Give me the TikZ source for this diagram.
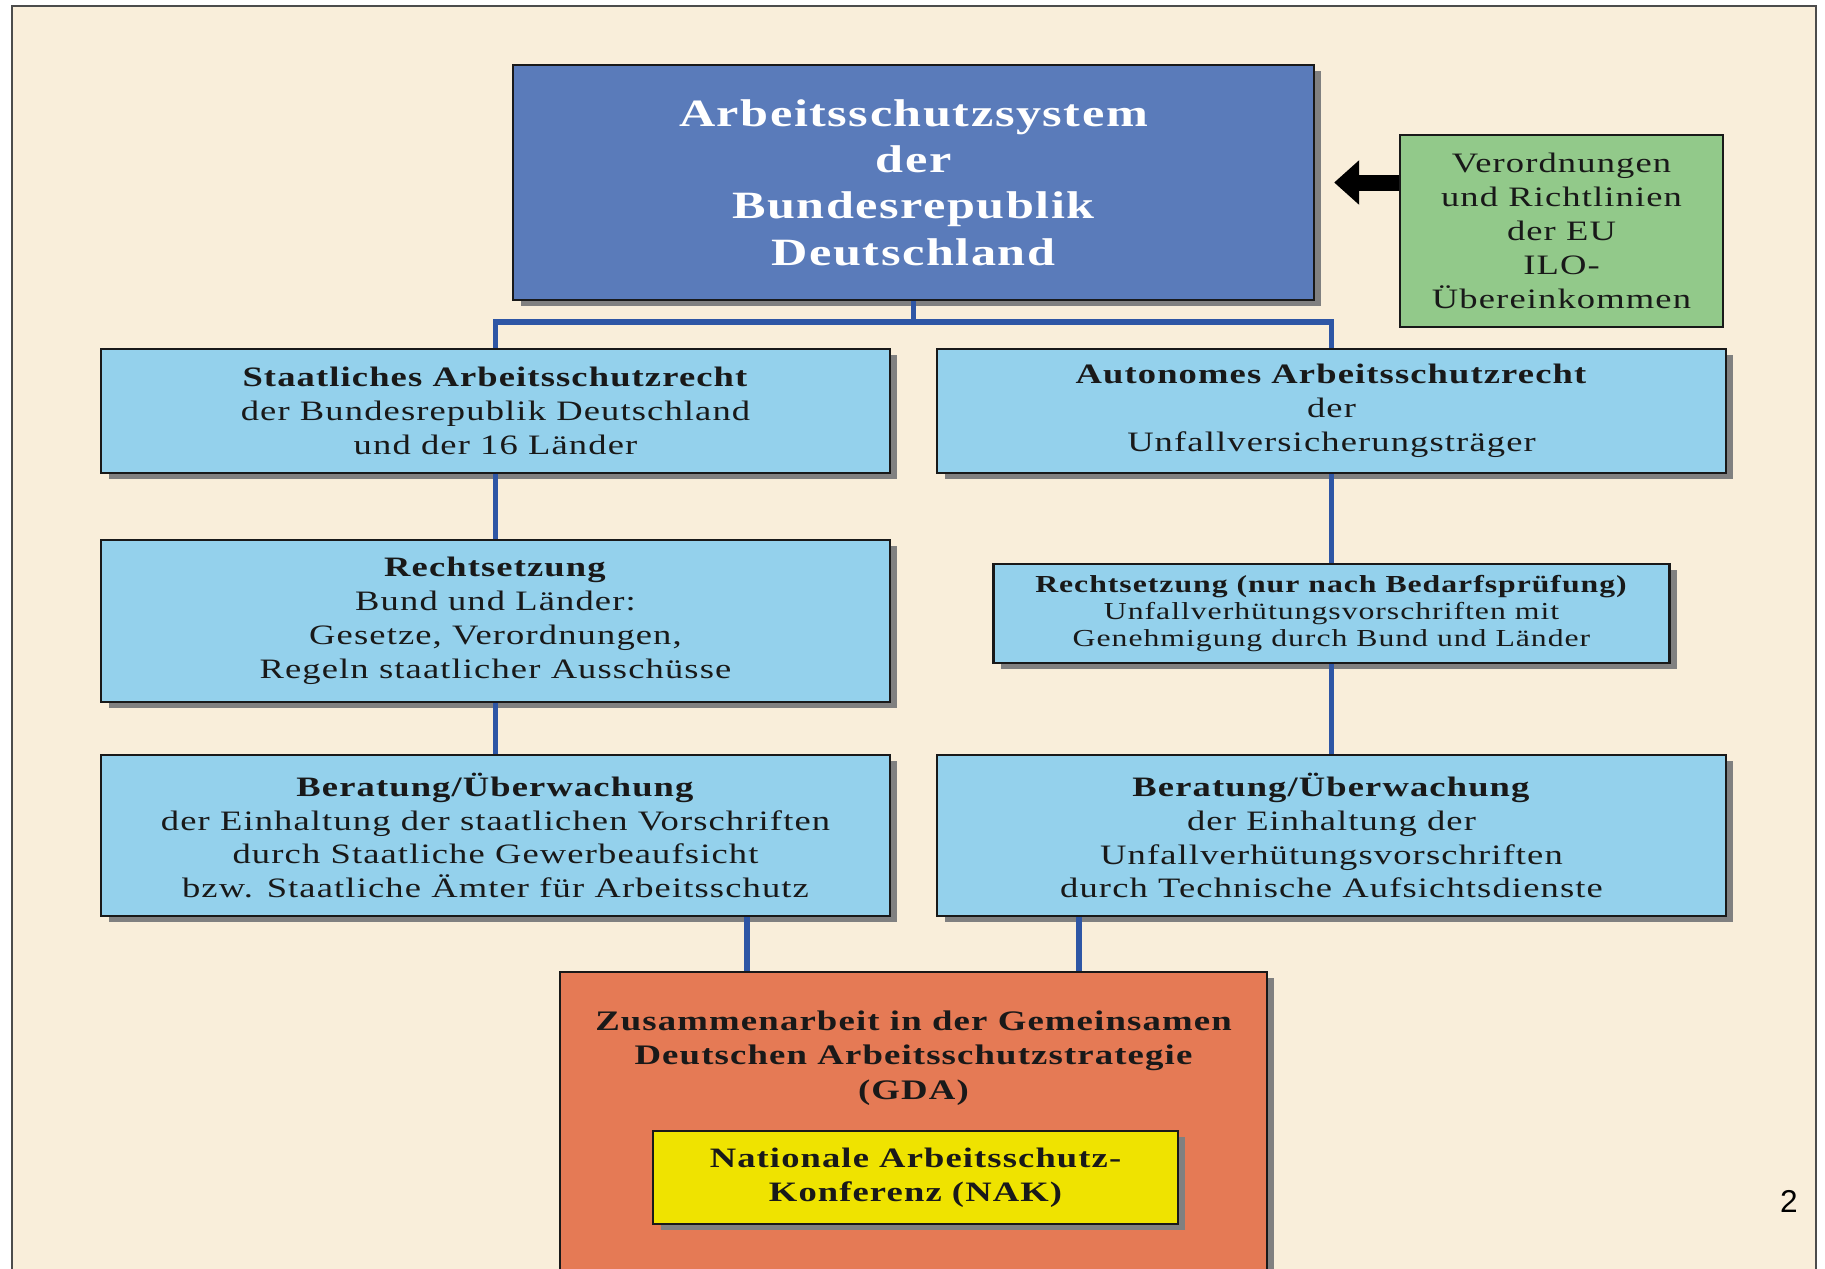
\documentclass[tikz,border=0pt]{standalone}
\usepackage{fontspec}
\setmainfont{Liberation Serif}[FakeStretch=1.3, LetterSpace=4]
\newfontfamily\pagefont{Liberation Sans}
\usetikzlibrary{arrows.meta, shadows}

\definecolor{pagebg}{HTML}{F9EEDA}
\definecolor{systemblue}{HTML}{5A7BBA}
\definecolor{lawblue}{HTML}{94D1EC}
\definecolor{eugreen}{HTML}{92C98A}
\definecolor{gdaorange}{HTML}{E57A55}
\definecolor{nakyellow}{HTML}{EFE300}
\definecolor{linkblue}{HTML}{2E56A5}

\begin{document}
\begin{tikzpicture}[
    x=0.02cm, y=-0.02cm,
    shadowed/.style={drop shadow={shadow xshift=0.15cm, shadow yshift=-0.12cm, fill=black!50, opacity=1}},
    plainbox/.style={draw=black!90, line width=1.4pt, align=center, inner sep=0pt, text=black!90},
    topbox/.style={plainbox, shadowed, fill=systemblue, text=white, minimum width=16.02cm, minimum height=4.7cm, font=\bfseries\fontsize{22}{26.4}\selectfont},
    lawbox/.style={plainbox, shadowed, fill=lawblue, minimum width=15.78cm, minimum height=2.48cm, font=\fontsize{16}{19.3}\selectfont},
    eubox/.style={plainbox, fill=eugreen, minimum width=6.46cm, minimum height=3.84cm, font=\fontsize{16}{19.3}\selectfont},
    gdabox/.style={plainbox, shadowed, fill=gdaorange, minimum width=14.14cm, minimum height=7.12cm},
    nakbox/.style={plainbox, shadowed, fill=nakyellow, minimum width=10.5cm, minimum height=1.86cm, font=\bfseries\fontsize{16}{19.3}\selectfont},
    link/.style={draw=linkblue, line width=3.3pt},
    pusharrow/.style={draw=black, line width=0.32cm, -{Triangle[length=0.5cm, width=0.86cm]}}
]

    % page and frame
    \clip (0,0) rectangle (1825,1268);
    \fill[white] (0,0) rectangle (1825,1268);
    \draw[draw=black!70, line width=1pt, fill=pagebg] (12,6) rectangle (1816,1330);

    % Define Nodes
    \node[topbox] (system) at (913.5,182.5) {Arbeitsschutzsystem\\der\\Bundesrepublik\\Deutschland};
    \node[eubox] (eu) at (1561.5,231) {Verordnungen\\und Richtlinien\\der EU\\ILO-\\Übereinkommen};

    \node[lawbox] (staat) at (495.5,411) {\textbf{Staatliches Arbeitsschutzrecht}\\der Bundesrepublik Deutschland\\und der 16 Länder};
    \node[lawbox] (autonom) at (1331.5,411) {\textbf{Autonomes Arbeitsschutzrecht}\\der\\Unfallversicherungsträger};

    \node[lawbox, minimum height=3.24cm] (staatrecht) at (495.5,621) {\textbf{Rechtsetzung}\\Bund und Länder:\\Gesetze, Verordnungen,\\Regeln staatlicher Ausschüsse};
    \node[lawbox, minimum width=13.52cm, minimum height=1.98cm, font=\fontsize{13.9}{15.5}\selectfont] (uvtrecht) at (1331.5,613.5) {\textbf{Rechtsetzung (nur nach Bedarfsprüfung)}\\Unfallverhütungsvorschriften mit\\Genehmigung durch Bund und Länder};

    \node[lawbox, minimum height=3.22cm] (staataufsicht) at (495.5,835.5) {\textbf{Beratung/Überwachung}\\der Einhaltung der staatlichen Vorschriften\\durch Staatliche Gewerbeaufsicht\\bzw. Staatliche Ämter für Arbeitsschutz};
    \node[lawbox, minimum height=3.22cm] (uvtaufsicht) at (1331.5,835.5) {\textbf{Beratung/Überwachung}\\der Einhaltung der\\Unfallverhütungsvorschriften\\durch Technische Aufsichtsdienste};

    \node[gdabox] (gda) at (913.5,1150) {};
    \node[align=center, font=\bfseries\fontsize{16.1}{19.8}\selectfont, text=black!90] (gdatitle) at (913.5,1058) {Zusammenarbeit in der Gemeinsamen\\Deutschen Arbeitsschutzstrategie\\(GDA)};
    \node[nakbox] (nak) at (915.5,1177.5) {Nationale Arbeitsschutz-\\Konferenz (NAK)};

    \node[font=\pagefont\fontsize{18}{20}\selectfont] (pageno) at (1789,1201) {2};

    % Draw Edges
    \coordinate (split) at (system.south |- 0,322);
    \draw[link] (system.south) -- (split) -| (staat.north);
    \draw[link] (split) -| (autonom.north);
    \draw[link] (staat) -- (staatrecht);
    \draw[link] (staatrecht) -- (staataufsicht);
    \draw[link] (autonom) -- (uvtrecht);
    \draw[link] (uvtrecht) -- (uvtaufsicht);
    \draw[link] ([xshift=-3.33cm]gda.north) -- ([xshift=-3.33cm]gda.north |- staataufsicht.south);
    \draw[link] ([xshift=3.31cm]gda.north) -- ([xshift=3.31cm]gda.north |- uvtaufsicht.south);
    \draw[pusharrow] (eu.west |- system.east) -- ([xshift=0.38cm]system.east);
\end{tikzpicture}
\end{document}
